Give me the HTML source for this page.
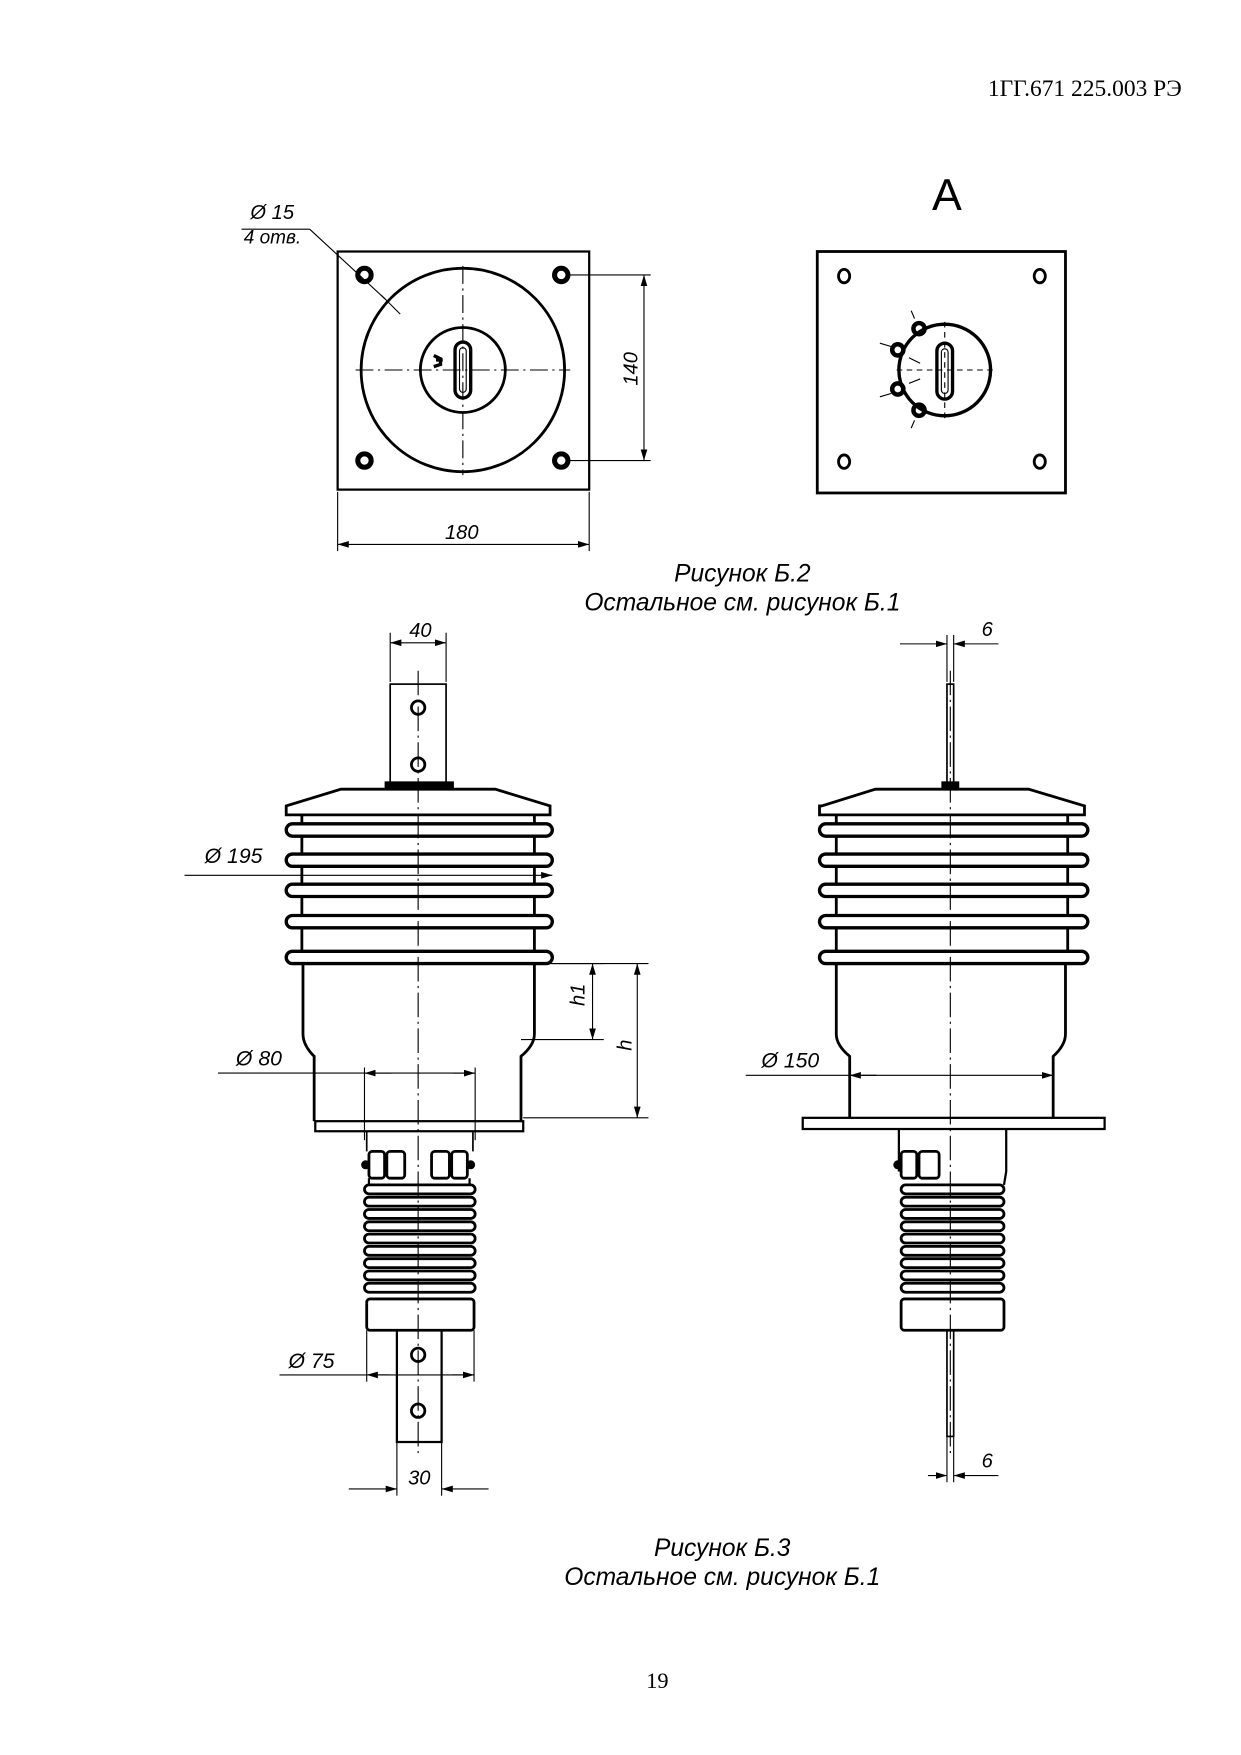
<!DOCTYPE html>
<html><head><meta charset="utf-8"><style>
html,body{margin:0;padding:0;background:#fff;width:1241px;height:1755px;overflow:hidden}
svg{display:block}
.t{font-family:"Liberation Sans",sans-serif;font-style:italic;fill:#000}
.s{font-family:"Liberation Serif",serif;fill:#000}
</style></head><body>
<svg width="1241" height="1755" viewBox="0 0 1110 1570" preserveAspectRatio="none" xmlns="http://www.w3.org/2000/svg">
<defs>
<marker id="a" viewBox="0 0 10 6" refX="10" refY="3" markerWidth="10" markerHeight="6" orient="auto-start-reverse" markerUnits="userSpaceOnUse"><path d="M0,0 L10,3 L0,6 z" fill="#000"/></marker>
</defs>
<text class="s" x="1057" y="86" font-size="21" text-anchor="end">1ГГ.671 225.003 РЭ</text>

<!-- Figure B.2 left -->
<g fill="none" stroke="#000">
<rect x="302" y="225" width="225" height="213" stroke-width="2"/>
<circle cx="414" cy="331" r="91" stroke-width="2.5"/>
<circle cx="414" cy="331" r="38" stroke-width="2.5"/>
<rect x="407" y="306" width="14" height="50" rx="7" stroke-width="3"/>
<rect x="411" y="311" width="6" height="40" rx="3" stroke-width="1"/>
<g stroke-width="4.5"><circle cx="326" cy="246" r="6"/><circle cx="502" cy="246" r="6"/><circle cx="326" cy="412" r="6"/><circle cx="502" cy="412" r="6"/></g>
<g stroke-width="1" stroke-dasharray="16,4,2,4"><line x1="318" y1="331" x2="510" y2="331"/><line x1="414" y1="238" x2="414" y2="425"/></g>
<line x1="216" y1="205" x2="277" y2="205" stroke-width="1"/>
<line x1="277" y1="205" x2="345" y2="268" stroke-width="1"/>
<line x1="341" y1="264" x2="358" y2="281" stroke-width="1"/>
<path d="M388,318 l6,3 l0,5 l-6,2 M390,322 l6,0" stroke-width="3"/>
<line x1="510" y1="246" x2="582" y2="246" stroke-width="1"/>
<line x1="510" y1="412" x2="582" y2="412" stroke-width="1"/>
<line x1="576" y1="246" x2="576" y2="412" stroke-width="1" marker-start="url(#a)" marker-end="url(#a)"/>
<line x1="302" y1="440" x2="302" y2="493" stroke-width="1"/>
<line x1="527" y1="440" x2="527" y2="493" stroke-width="1"/>
<line x1="302" y1="487" x2="527" y2="487" stroke-width="1" marker-start="url(#a)" marker-end="url(#a)"/>
</g>
<text class="t" x="224" y="196" font-size="18">Ø 15</text>
<text class="t" x="218" y="218" font-size="17">4 отв.</text>
<text class="t" x="0" y="0" font-size="18" transform="translate(570,345) rotate(-90)">140</text>
<text class="t" x="398" y="482" font-size="18">180</text>

<!-- Figure B.2 right -->
<text x="847" y="188" font-family="Liberation Sans,sans-serif" font-size="40" text-anchor="middle">А</text>
<g fill="none" stroke="#000">
<rect x="731" y="225" width="222" height="216" stroke-width="2.5"/>
<g stroke-width="2.5"><ellipse cx="755" cy="247" rx="5" ry="6"/><ellipse cx="930" cy="247" rx="5" ry="6"/><ellipse cx="755" cy="413" rx="5" ry="6"/><ellipse cx="930" cy="413" rx="5" ry="6"/></g>
<circle cx="845" cy="331" r="41" stroke-width="3"/>
<rect x="838" y="307" width="14" height="50" rx="7" stroke-width="3"/>
<rect x="842" y="312" width="6" height="40" rx="3" stroke-width="1"/>
<g stroke-width="4"><circle cx="822" cy="294" r="5"/><circle cx="803" cy="313" r="5"/><circle cx="803" cy="348" r="5"/><circle cx="822" cy="367" r="5"/></g>
<g stroke-width="1"><line x1="818" y1="285" x2="815" y2="278"/><line x1="797" y1="310" x2="787" y2="307"/><line x1="797" y1="352" x2="787" y2="355"/><line x1="818" y1="376" x2="815" y2="383"/><line x1="813" y1="320" x2="823" y2="325"/><line x1="813" y1="343" x2="823" y2="339"/></g>
<g stroke-width="1" stroke-dasharray="5,4"><line x1="802" y1="331" x2="888" y2="331"/><line x1="845" y1="288" x2="845" y2="374"/></g>
</g>
<text class="t" x="664" y="520" font-size="22" text-anchor="middle">Рисунок Б.2</text>
<text class="t" x="664" y="546" font-size="22" text-anchor="middle">Остальное см. рисунок Б.1</text>

<!-- Figure B.3 left -->
<g fill="none" stroke="#000" stroke-width="2">
<rect x="349" y="612" width="50" height="91" stroke-width="1.5"/>
<circle cx="374" cy="633" r="6" stroke-width="2.5"/><circle cx="374" cy="684" r="6" stroke-width="2.5"/>
<rect x="345" y="700" width="60" height="6" fill="#000"/>
<path d="M305,706 L443,706 L492,721 L492,729 L256,729 L256,721 Z" stroke-width="2.5"/>
<g stroke-width="3">
<rect x="256" y="737" width="238" height="11" rx="5.5"/>
<rect x="256" y="764" width="238" height="11" rx="5.5"/>
<rect x="256" y="791" width="238" height="11" rx="5.5"/>
<rect x="256" y="819" width="238" height="11" rx="5.5"/>
<rect x="256" y="851" width="238" height="11" rx="5.5"/>
</g>
<path d="M270,729 L270,738 M478,729 L478,738 M270,748 L270,765 M478,748 L478,765 M270,775 L270,792 M478,775 L478,792 M270,802 L270,820 M478,802 L478,820 M270,830 L270,852 M478,830 L478,852" stroke-width="2.5"/>
<path d="M271,862 L271,925 Q271,935 281,945 L281,1003 M478,862 L478,925 Q478,935 466,945 L466,1003" stroke-width="2.5"/>
<rect x="282" y="1003" width="186" height="9" stroke-width="2"/>
<path d="M328,1012 L328,1030 M423,1012 L423,1030" stroke-width="1.5"/>
<g stroke-width="2.5">
<rect x="330" y="1030" width="14" height="24" rx="3"/><rect x="346" y="1030" width="16" height="24" rx="3"/>
<rect x="386" y="1030" width="16" height="24" rx="3"/><rect x="404" y="1030" width="14" height="24" rx="3"/>
</g>
<circle cx="327" cy="1042" r="3" fill="#000"/><circle cx="421" cy="1042" r="3" fill="#000"/>
<path d="M330,1054 L330,1060 M420,1054 L420,1060" stroke-width="2"/>
<g stroke-width="2.5">
<rect x="326" y="1060" width="99" height="8" rx="4"/><rect x="326" y="1071" width="99" height="8" rx="4"/>
<rect x="326" y="1082" width="99" height="8" rx="4"/><rect x="326" y="1093" width="99" height="8" rx="4"/>
<rect x="326" y="1104" width="99" height="8" rx="4"/><rect x="326" y="1115" width="99" height="8" rx="4"/>
<rect x="326" y="1126" width="99" height="8" rx="4"/><rect x="326" y="1137" width="99" height="8" rx="4"/>
<rect x="326" y="1148" width="99" height="8" rx="4"/>
</g>
<rect x="328" y="1162" width="96" height="28" rx="3" stroke-width="2.5"/>
<rect x="355" y="1190" width="40" height="100" stroke-width="2"/>
<circle cx="374" cy="1212" r="6" stroke-width="2.5"/><circle cx="374" cy="1262" r="6" stroke-width="2.5"/>
</g>
<g fill="none" stroke="#000" stroke-width="1">
<line x1="374" y1="600" x2="374" y2="1300" stroke-dasharray="22,4,2,4"/>
<line x1="349" y1="566" x2="349" y2="610"/><line x1="399" y1="566" x2="399" y2="610"/>
<line x1="349" y1="575" x2="399" y2="575" marker-start="url(#a)" marker-end="url(#a)"/>
<line x1="165" y1="783" x2="494" y2="783" marker-end="url(#a)"/>
<line x1="478" y1="862" x2="540" y2="862"/><line x1="466" y1="930" x2="540" y2="930"/>
<line x1="530" y1="862" x2="530" y2="930" marker-start="url(#a)" marker-end="url(#a)"/>
<line x1="494" y1="862" x2="580" y2="862"/><line x1="468" y1="1000" x2="580" y2="1000"/>
<line x1="570" y1="862" x2="570" y2="1000" marker-start="url(#a)" marker-end="url(#a)"/>
<line x1="326" y1="955" x2="326" y2="1020"/><line x1="425" y1="955" x2="425" y2="1020"/>
<line x1="195" y1="960" x2="425" y2="960"/>
<line x1="326" y1="960" x2="350" y2="960" marker-start="url(#a)"/>
<line x1="405" y1="960" x2="425" y2="960" marker-end="url(#a)"/>
<line x1="328" y1="1190" x2="328" y2="1236"/><line x1="424" y1="1190" x2="424" y2="1236"/>
<line x1="250" y1="1230" x2="424" y2="1230"/>
<line x1="328" y1="1230" x2="348" y2="1230" marker-start="url(#a)"/>
<line x1="404" y1="1230" x2="424" y2="1230" marker-end="url(#a)"/>
<line x1="355" y1="1290" x2="355" y2="1338"/><line x1="395" y1="1290" x2="395" y2="1338"/>
<line x1="312" y1="1332" x2="355" y2="1332" marker-end="url(#a)"/>
<line x1="437" y1="1332" x2="395" y2="1332" marker-end="url(#a)"/>
</g>
<text class="t" x="366" y="570" font-size="18">40</text>
<text class="t" x="183" y="772" font-size="19">Ø 195</text>
<text class="t" x="0" y="0" font-size="18" transform="translate(523,900) rotate(-90)">h1</text>
<text class="t" x="0" y="0" font-size="18" transform="translate(565,940) rotate(-90)">h</text>
<text class="t" x="211" y="953" font-size="19">Ø 80</text>
<text class="t" x="258" y="1224" font-size="19">Ø 75</text>
<text class="t" x="365" y="1328" font-size="18">30</text>

<!-- Figure B.3 right -->
<g fill="none" stroke="#000" stroke-width="2">
<rect x="847" y="612" width="6" height="92" stroke-width="1.5"/>
<rect x="843" y="700" width="14" height="6" fill="#000"/>
<path d="M735,721 L783,706 L920,706 L970,721 L970,729 L733,729 L733,721 Z" stroke-width="2.5"/>
<g stroke-width="3">
<rect x="733" y="737" width="240" height="11" rx="5.5"/>
<rect x="733" y="764" width="240" height="11" rx="5.5"/>
<rect x="733" y="791" width="240" height="11" rx="5.5"/>
<rect x="733" y="819" width="240" height="11" rx="5.5"/>
<rect x="733" y="851" width="240" height="11" rx="5.5"/>
</g>
<path d="M748,729 L748,738 M955,729 L955,738 M748,748 L748,765 M955,748 L955,765 M748,775 L748,792 M955,775 L955,792 M748,802 L748,820 M955,802 L955,820 M748,830 L748,852 M955,830 L955,852" stroke-width="2.5"/>
<path d="M748,862 L748,925 Q748,935 760,945 L760,1000 M953,862 L953,925 Q953,935 942,945 L942,1000" stroke-width="2.5"/>
<rect x="718" y="1000" width="270" height="10" stroke-width="2"/>
<path d="M804,1010 L804,1048 M900,1010 L900,1048 L898,1060" stroke-width="2"/>
<g stroke-width="2.5"><rect x="806" y="1030" width="14" height="24" rx="3"/><rect x="822" y="1030" width="18" height="24" rx="3"/></g>
<circle cx="803" cy="1042" r="3" fill="#000"/>
<g stroke-width="2.5">
<rect x="806" y="1060" width="92" height="8" rx="4"/><rect x="806" y="1071" width="92" height="8" rx="4"/>
<rect x="806" y="1082" width="92" height="8" rx="4"/><rect x="806" y="1093" width="92" height="8" rx="4"/>
<rect x="806" y="1104" width="92" height="8" rx="4"/><rect x="806" y="1115" width="92" height="8" rx="4"/>
<rect x="806" y="1126" width="92" height="8" rx="4"/><rect x="806" y="1137" width="92" height="8" rx="4"/>
<rect x="806" y="1148" width="92" height="8" rx="4"/>
</g>
<rect x="806" y="1162" width="92" height="28" rx="3" stroke-width="2.5"/>
<rect x="847" y="1190" width="6" height="95" stroke-width="1.5"/>
</g>
<g fill="none" stroke="#000" stroke-width="1">
<line x1="850" y1="600" x2="850" y2="1300" stroke-dasharray="22,4,2,4"/>
<line x1="847" y1="568" x2="847" y2="610"/><line x1="853" y1="568" x2="853" y2="610"/>
<line x1="805" y1="576" x2="847" y2="576" marker-end="url(#a)"/>
<line x1="893" y1="576" x2="853" y2="576" marker-end="url(#a)"/>
<line x1="847" y1="1285" x2="847" y2="1326"/><line x1="853" y1="1285" x2="853" y2="1326"/>
<line x1="830" y1="1320" x2="847" y2="1320" marker-end="url(#a)"/>
<line x1="893" y1="1320" x2="853" y2="1320" marker-end="url(#a)"/>
<line x1="667" y1="962" x2="942" y2="962" marker-end="url(#a)"/>
<line x1="784" y1="962" x2="760" y2="962" marker-end="url(#a)"/>
</g>
<text class="t" x="878" y="569" font-size="18">6</text>
<text class="t" x="878" y="1313" font-size="18">6</text>
<text class="t" x="681" y="955" font-size="19">Ø 150</text>

<text class="t" x="646" y="1392" font-size="22" text-anchor="middle">Рисунок Б.3</text>
<text class="t" x="646" y="1418" font-size="22" text-anchor="middle">Остальное см. рисунок Б.1</text>
<text class="s" x="588" y="1510" font-size="20" text-anchor="middle">19</text>
</svg>
</body></html>
